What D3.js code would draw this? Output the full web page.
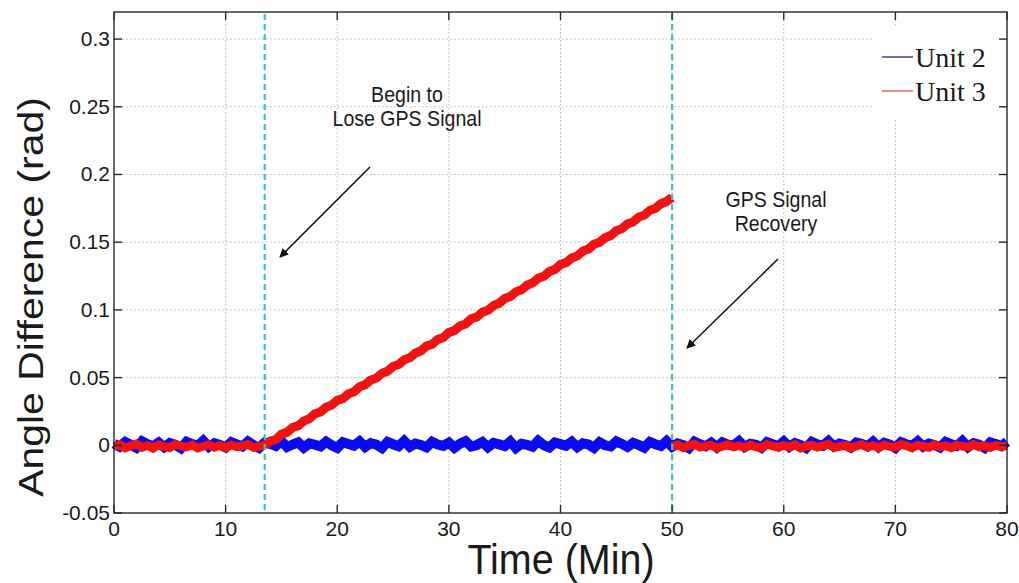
<!DOCTYPE html>
<html>
<head>
<meta charset="utf-8">
<script src="https://cdn.jsdelivr.net/npm/d3@7"></script>
<style>
  html, body { margin: 0; padding: 0; background: #fff; }
  svg { display: block; }
  text { font-family: "Liberation Sans", Arial, sans-serif; fill: #1a1a1a; }
</style>
</head>
<body>
<svg id="chart" width="1019" height="583"></svg>
<script>
// ---- data -------------------------------------------------------------
const xTicks = [0, 10, 20, 30, 40, 50, 60, 70, 80];
const yTicks = [-0.05, 0, 0.05, 0.1, 0.15, 0.2, 0.25, 0.3];
const yTickLabels = ["-0.05", "0", "0.05", "0.1", "0.15", "0.2", "0.25", "0.3"];

// GPS events (minutes)
const gpsLossMin = 13.5;
const gpsRecoveryMin = 50;

const sampleStep = 0.5; // minutes between samples

// Unit 2: angle difference (rad), sampled every 0.5 min from 0 to 80
const unit2 = [
  0.0012, -0.0010, 0.0025, 0.0004, -0.0018, 0.0030, 0.0008, -0.0006, 0.0021, -0.0014,
  0.0017, 0.0003, -0.0022, 0.0026, 0.0009, -0.0004, 0.0033, -0.0011, 0.0015, 0.0002,
  -0.0016, 0.0024, 0.0007, -0.0009, 0.0028, 0.0001, -0.0020, 0.0019, 0.0011, -0.0005,
  0.0031, -0.0013, 0.0006, 0.0022, -0.0017, 0.0014, 0.0004, -0.0008, 0.0027, 0.0000,
  -0.0019, 0.0023, 0.0010, -0.0003, 0.0029, -0.0012, 0.0016, 0.0005, -0.0021, 0.0025,
  0.0008, -0.0007, 0.0032, -0.0010, 0.0013, 0.0003, -0.0015, 0.0026, 0.0006, -0.0004,
  0.0020, -0.0018, 0.0012, 0.0030, -0.0009, 0.0002, 0.0024, -0.0014, 0.0017, 0.0007,
  -0.0006, 0.0028, -0.0020, 0.0011, 0.0004, -0.0011, 0.0033, 0.0001, -0.0016, 0.0021,
  0.0009, -0.0003, 0.0026, -0.0013, 0.0015, 0.0006, -0.0019, 0.0023, 0.0000, -0.0008,
  0.0029, 0.0010, -0.0012, 0.0018, 0.0003, -0.0017, 0.0025, 0.0007, -0.0005, 0.0031,
  -0.0010, 0.0014, 0.0002, -0.0021, 0.0027, 0.0008, -0.0007, 0.0019, -0.0015, 0.0022,
  0.0005, -0.0002, 0.0030, -0.0012, 0.0011, 0.0004, -0.0018, 0.0024, 0.0009, -0.0006,
  0.0028, -0.0011, 0.0016, 0.0001, -0.0020, 0.0026, 0.0007, -0.0004, 0.0032, -0.0009,
  0.0013, 0.0003, -0.0016, 0.0021, 0.0010, -0.0008, 0.0027, -0.0013, 0.0018, 0.0005,
  -0.0019, 0.0023, 0.0006, -0.0003, 0.0029, -0.0010, 0.0012, 0.0002, -0.0017, 0.0025,
  0.0008, -0.0005, 0.0031, -0.0014, 0.0015, 0.0004, -0.0020, 0.0022, 0.0009, -0.0006,
  0.0026
];

// Unit 3, before GPS loss (0 .. 13.5 min)
const unit3Before = [
  -0.0012, 0.0005, -0.0020, -0.0003, 0.0010, -0.0016, -0.0001, -0.0022, 0.0004, -0.0009,
  -0.0018, 0.0008, -0.0005, -0.0014, 0.0002, -0.0021, -0.0007, 0.0006, -0.0015, -0.0002,
  -0.0019, 0.0003, -0.0011, -0.0004, 0.0007, -0.0017, -0.0008, 0.0000
];

// Unit 3, drifting while GPS is lost (13.5 .. 50 min)
const unit3Drift = [
  0.0000, 0.0031, 0.0043, 0.0082, 0.0096, 0.0131, 0.0144, 0.0179, 0.0196, 0.0233,
  0.0246, 0.0281, 0.0297, 0.0333, 0.0345, 0.0380, 0.0395, 0.0432, 0.0447, 0.0482,
  0.0496, 0.0531, 0.0547, 0.0583, 0.0597, 0.0632, 0.0646, 0.0681, 0.0698, 0.0733,
  0.0747, 0.0782, 0.0796, 0.0833, 0.0848, 0.0881, 0.0897, 0.0934, 0.0947, 0.0983,
  0.0998, 0.1032, 0.1049, 0.1084, 0.1098, 0.1133, 0.1148, 0.1182, 0.1199, 0.1234,
  0.1248, 0.1283, 0.1298, 0.1335, 0.1349, 0.1383, 0.1399, 0.1434, 0.1450, 0.1485,
  0.1499, 0.1533, 0.1549, 0.1585, 0.1600, 0.1634, 0.1650, 0.1685, 0.1700, 0.1735,
  0.1750, 0.1784, 0.1801, 0.1830
];

// Unit 3, after GPS recovery (50 .. 80 min)
const unit3After = [
  -0.0010, 0.0004, -0.0019, -0.0002, 0.0009, -0.0015, -0.0006, 0.0001, -0.0021, -0.0008,
  0.0006, -0.0013, -0.0003, -0.0018, 0.0003, -0.0011, -0.0020, 0.0007, -0.0005, -0.0016,
  0.0000, -0.0012, 0.0005, -0.0022, -0.0007, 0.0002, -0.0014, -0.0004, 0.0008, -0.0017,
  -0.0009, 0.0001, -0.0020, -0.0006, 0.0006, -0.0013, -0.0002, -0.0018, 0.0004, -0.0010,
  -0.0015, 0.0007, -0.0004, -0.0021, 0.0002, -0.0008, -0.0016, 0.0005, -0.0011, -0.0003,
  -0.0019, 0.0003, -0.0007, -0.0014, 0.0006, -0.0012, -0.0001, -0.0017, 0.0001, -0.0009,
  -0.0005
];

const seriesNames = ["Unit 2", "Unit 3"];
const seriesColors = ["#0a0af0", "#f21212"];
const legendColors = ["#4b4ba0", "#e66a6a"];

// ---- layout ----------------------------------------------------------
const svg = d3.select("#chart");
const plot = { left: 114, top: 12, right: 1007, bottom: 513 };

const x = d3.scaleLinear().domain([0, 80]).range([plot.left, plot.right]);
const y = d3.scaleLinear().domain([-0.05, 0.32]).range([plot.bottom, plot.top]);

// samples -> [minute, value] pairs starting at a given minute
const toPoints = (vals, start) => vals.map((v, i) => [start + i * sampleStep, v]);

// ---- grid ------------------------------------------------------------
const grid = svg.append("g").attr("stroke", "#b5b5b5").attr("stroke-width", 1)
  .attr("stroke-dasharray", "1.5,2.5");
grid.selectAll("line.gx").data(xTicks.slice(1, -1)).join("line")
  .attr("x1", d => x(d)).attr("x2", d => x(d))
  .attr("y1", plot.top).attr("y2", plot.bottom);
grid.selectAll("line.gy").data(yTicks.slice(1)).join("line")
  .attr("x1", plot.left).attr("x2", plot.right)
  .attr("y1", d => y(d)).attr("y2", d => y(d));

// ---- series ----------------------------------------------------------
const line = d3.line().x(d => x(d[0])).y(d => y(d[1]));
const dataG = svg.append("g").attr("fill", "none")
  .attr("stroke-linejoin", "miter").attr("stroke-miterlimit", 3)
  .attr("stroke-linecap", "butt");

dataG.append("path").datum(toPoints(unit2, 0))
  .attr("d", line).attr("stroke", seriesColors[0]).attr("stroke-width", 10);

dataG.append("path").datum(toPoints(unit3Before, 0))
  .attr("d", line).attr("stroke", seriesColors[1]).attr("stroke-width", 8.5);
dataG.append("path").datum(toPoints(unit3Drift, gpsLossMin))
  .attr("d", line).attr("stroke", seriesColors[1]).attr("stroke-width", 9);
dataG.append("path").datum(toPoints(unit3After, gpsRecoveryMin))
  .attr("d", line).attr("stroke", seriesColors[1]).attr("stroke-width", 8.5);

// ---- event markers ---------------------------------------------------
svg.append("g").selectAll("line").data([gpsLossMin, gpsRecoveryMin]).join("line")
  .attr("x1", d => x(d)).attr("x2", d => x(d))
  .attr("y1", plot.top + 2).attr("y2", plot.bottom)
  .attr("stroke", "#3fbfc4").attr("stroke-width", 2.2)
  .attr("stroke-dasharray", "6,4");

// ---- legend ----------------------------------------------------------
const legend = svg.append("g");
legend.append("rect").attr("x", 873).attr("y", 27).attr("width", 132).attr("height", 90)
  .attr("fill", "#fff");
seriesNames.forEach((name, i) => {
  const ly = 57 + i * 34;
  legend.append("line").attr("x1", 882).attr("x2", 913).attr("y1", ly).attr("y2", ly)
    .attr("stroke", legendColors[i]).attr("stroke-width", 1.6);
  legend.append("text").attr("x", 915).attr("y", ly + 10)
    .style("font-family", "'Liberation Serif', 'Times New Roman', serif")
    .style("font-size", "28px").text(name);
});

// ---- axes (boxed, inward ticks) ---------------------------------------
const axisColor = "#2a2a2a";
const tickLen = 8;
const axes = svg.append("g").attr("stroke", axisColor).attr("stroke-width", 1.4);
axes.append("rect").attr("x", plot.left).attr("y", plot.top)
  .attr("width", plot.right - plot.left).attr("height", plot.bottom - plot.top)
  .attr("fill", "none");
axes.selectAll("line.xb").data(xTicks).join("line")
  .attr("x1", d => x(d)).attr("x2", d => x(d))
  .attr("y1", plot.bottom).attr("y2", plot.bottom - tickLen);
axes.selectAll("line.xt").data(xTicks).join("line")
  .attr("x1", d => x(d)).attr("x2", d => x(d))
  .attr("y1", plot.top).attr("y2", plot.top + tickLen);
axes.selectAll("line.yl").data(yTicks).join("line")
  .attr("x1", plot.left).attr("x2", plot.left + tickLen)
  .attr("y1", d => y(d)).attr("y2", d => y(d));
axes.selectAll("line.yr").data(yTicks).join("line")
  .attr("x1", plot.right).attr("x2", plot.right - tickLen)
  .attr("y1", d => y(d)).attr("y2", d => y(d));

// tick labels
svg.append("g").selectAll("text").data(xTicks).join("text")
  .attr("x", d => x(d)).attr("y", 536)
  .attr("text-anchor", "middle").style("font-size", "21px")
  .text(d => d);
svg.append("g").selectAll("text").data(yTicks).join("text")
  .attr("x", 110).attr("y", d => y(d) + 7)
  .attr("text-anchor", "end").style("font-size", "21px")
  .text((d, i) => yTickLabels[i]);

// axis titles (slightly tall, as in the original figure)
svg.append("text")
  .attr("transform", "translate(561,574) scale(1.04,1.12)")
  .attr("text-anchor", "middle").style("font-size", "38px")
  .text("Time (Min)");
svg.append("text")
  .attr("transform", "translate(43,297) rotate(-90) scale(1.17,1)")
  .attr("text-anchor", "middle").style("font-size", "35px")
  .text("Angle Difference (rad)");

// ---- annotations -----------------------------------------------------
svg.append("defs").append("marker")
  .attr("id", "arrowhead").attr("viewBox", "0 0 10 10")
  .attr("refX", 9).attr("refY", 5)
  .attr("markerWidth", 9).attr("markerHeight", 9)
  .attr("markerUnits", "userSpaceOnUse")
  .attr("orient", "auto")
  .append("path").attr("d", "M0,0 L10,5 L0,10 Z").attr("fill", "#111");

const notes = [
  { lines: ["Begin to", "Lose GPS Signal"], cx: 407, y0: 102, arrow: [370, 167, 280, 257] },
  { lines: ["GPS Signal", "Recovery"], cx: 776, y0: 207, arrow: [778, 259, 687, 348] }
];
notes.forEach(n => {
  n.lines.forEach((t, i) => {
    svg.append("text")
      .attr("transform", `translate(${n.cx},${n.y0 + i * 24}) scale(1.03,1.12)`)
      .attr("text-anchor", "middle").style("font-size", "19px").text(t);
  });
  svg.append("line")
    .attr("x1", n.arrow[0]).attr("y1", n.arrow[1])
    .attr("x2", n.arrow[2]).attr("y2", n.arrow[3])
    .attr("stroke", "#111").attr("stroke-width", 1.5)
    .attr("marker-end", "url(#arrowhead)");
});
</script>
</body>
</html>
